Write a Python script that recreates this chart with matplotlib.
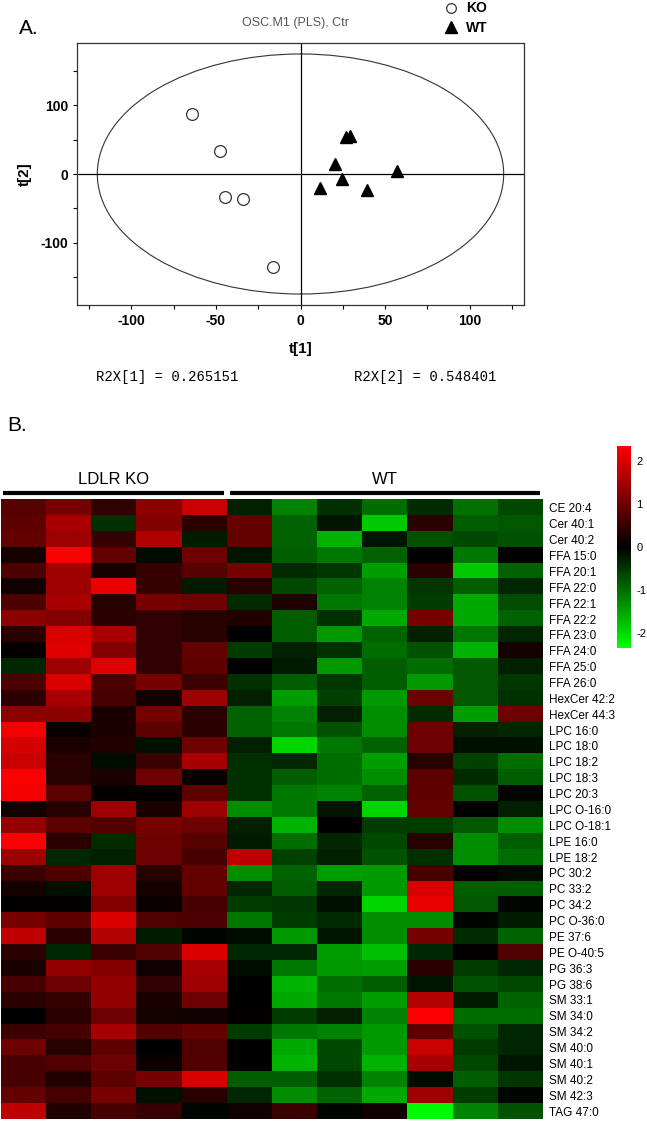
import matplotlib
matplotlib.use('Agg')
import matplotlib.pyplot as plt
import numpy as np
from matplotlib.colors import LinearSegmentedColormap
from matplotlib.patches import Ellipse

plt.rcParams['font.family'] = ['Liberation Sans', 'DejaVu Sans']
plt.rcParams['axes.unicode_minus'] = False

# scores plot (panel A)
ko_t1 = [-64, -47.5, -44.5, -34, -16.5]
ko_t2 = [88, 33, -33, -36, -136]
wt_t1 = [27, 29, 20.5, 24.5, 11.5, 39.5, 57]
wt_t2 = [54, 56, 14, -8, -20, -23, 4]
r2x = [0.265151, 0.548401]

# heatmap (panel B)
lipids = ['CE 20:4', 'Cer 40:1', 'Cer 40:2', 'FFA 15:0', 'FFA 20:1', 'FFA 22:0',
          'FFA 22:1', 'FFA 22:2', 'FFA 23:0', 'FFA 24:0', 'FFA 25:0', 'FFA 26:0',
          'HexCer 42:2', 'HexCer 44:3', 'LPC 16:0', 'LPC 18:0', 'LPC 18:2',
          'LPC 18:3', 'LPC 20:3', 'LPC O-16:0', 'LPC O-18:1', 'LPE 16:0',
          'LPE 18:2', 'PC 30:2', 'PC 33:2', 'PC 34:2', 'PC O-36:0', 'PE 37:6',
          'PE O-40:5', 'PG 36:3', 'PG 38:6', 'SM 33:1', 'SM 34:0', 'SM 34:2',
          'SM 40:0', 'SM 40:1', 'SM 40:2', 'SM 42:3', 'TAG 47:0']

ko_values = [
    [0.8, 1.1, 0.45, 1.3, 1.85],
    [0.85, 1.55, -0.45, 1.2, 0.4],
    [0.9, 1.45, 0.5, 1.6, -0.25],
    [0.2, 2.3, 0.9, -0.1, 1.0],
    [0.7, 1.45, 0.2, 0.5, 0.8],
    [0.15, 1.45, 2.15, 0.5, -0.25],
    [0.7, 1.55, 0.35, 1.1, 1.0],
    [1.3, 1.2, 0.4, 0.45, 0.35],
    [0.35, 2.0, 1.55, 0.45, 0.35],
    [0.05, 2.05, 1.2, 0.45, 0.9],
    [-0.35, 1.45, 2.05, 0.45, 0.85],
    [0.7, 2.0, 0.7, 1.1, 0.55],
    [0.4, 1.55, 0.65, 0.15, 1.45],
    [1.3, 1.3, 0.25, 1.1, 0.4],
    [2.25, 0.1, 0.25, 0.85, 0.4],
    [1.95, 0.25, 0.3, -0.15, 1.0],
    [1.85, 0.4, -0.1, 0.55, 1.55],
    [2.3, 0.35, 0.25, 1.0, 0.1],
    [2.25, 0.85, 0.05, 0.05, 0.85],
    [0.2, 0.35, 1.45, 0.25, 1.45],
    [1.35, 0.85, 0.75, 1.1, 1.0],
    [2.3, 0.4, -0.4, 1.0, 0.8],
    [1.45, -0.35, -0.3, 1.0, 0.65],
    [0.55, 0.7, 1.45, 0.35, 0.9],
    [0.2, -0.15, 1.45, 0.2, 0.9],
    [0.05, 0.05, 1.2, 0.1, 0.65],
    [1.1, 0.85, 2.0, 0.75, 0.7],
    [1.75, 0.4, 1.65, -0.25, -0.05],
    [0.4, -0.35, 0.55, 0.75, 2.0],
    [0.25, 1.35, 1.2, 0.15, 1.55],
    [0.65, 1.0, 1.35, 0.45, 1.45],
    [0.4, 0.5, 1.35, 0.25, 1.0],
    [0.0, 0.4, 1.0, 0.2, 0.15],
    [0.55, 0.65, 1.55, 0.75, 0.9],
    [1.0, 0.35, 0.85, 0.0, 0.75],
    [0.65, 0.75, 1.0, 0.1, 0.75],
    [0.65, 0.3, 0.85, 1.1, 2.0],
    [0.9, 0.65, 1.1, -0.15, 0.35],
    [1.75, 0.3, 0.65, 0.5, -0.05],
]

wt_values = [
    [-0.3, -1.2, -0.45, -1.0, -0.4, -1.05, -0.65],
    [0.95, -0.9, -0.2, -1.85, 0.4, -0.85, -0.8],
    [0.9, -0.9, -1.65, -0.2, -0.75, -0.65, -0.75],
    [-0.2, -0.85, -1.1, -0.9, 0.0, -1.1, 0.0],
    [1.1, -0.4, -0.5, -1.45, 0.4, -1.85, -0.9],
    [0.35, -0.65, -0.9, -1.2, -0.5, -0.85, -0.35],
    [-0.4, 0.3, -1.1, -1.2, -0.55, -1.55, -0.7],
    [0.3, -0.85, -0.45, -1.55, 1.1, -1.55, -0.9],
    [0.0, -0.85, -1.4, -0.9, -0.3, -1.1, -0.35],
    [-0.55, -0.3, -0.45, -1.0, -0.75, -1.65, 0.2],
    [0.0, -0.25, -1.4, -0.85, -1.0, -0.8, -0.3],
    [-0.45, -0.85, -0.5, -0.85, -1.4, -0.8, -0.5],
    [-0.3, -1.45, -0.6, -1.4, 1.0, -0.8, -0.45],
    [-0.9, -1.2, -0.3, -1.3, -0.4, -1.45, 1.0],
    [-0.9, -1.1, -0.75, -1.3, 1.0, -0.3, -0.35],
    [-0.3, -1.95, -1.1, -0.9, 1.0, -0.15, -0.15],
    [-0.45, -0.35, -1.0, -1.45, 0.35, -0.6, -1.0],
    [-0.45, -0.85, -1.0, -1.3, 0.85, -0.4, -0.85],
    [-0.45, -1.1, -1.2, -0.9, 0.85, -0.75, -0.05],
    [-1.3, -1.1, -0.2, -1.95, 0.9, 0.0, -0.3],
    [-0.3, -1.65, 0.0, -0.55, -0.55, -0.8, -1.3],
    [-0.25, -1.0, -0.35, -0.65, 0.35, -1.3, -0.85],
    [1.75, -0.6, -0.3, -0.75, -0.45, -1.3, -1.0],
    [-1.3, -0.9, -1.45, -1.4, 0.65, 0.05, -0.1],
    [-0.35, -0.85, -0.35, -1.4, 2.0, -0.85, -0.85],
    [-0.55, -0.5, -0.15, -1.95, 2.15, -0.8, -0.05],
    [-1.1, -0.55, -0.4, -1.3, -1.3, -0.05, -0.25],
    [-0.1, -1.4, -0.2, -1.3, 1.1, -0.4, -0.9],
    [-0.35, -0.35, -1.45, -1.75, -0.35, 0.05, 0.75],
    [-0.1, -1.1, -1.4, -1.45, 0.4, -0.55, -0.35],
    [0.0, -1.65, -1.0, -0.85, -0.2, -0.75, -0.65],
    [0.0, -1.55, -1.1, -1.45, 1.65, -0.25, -0.9],
    [0.05, -0.55, -0.3, -1.2, 2.3, -1.0, -1.0],
    [-0.55, -1.1, -1.2, -1.4, 0.85, -0.75, -0.35],
    [0.0, -1.55, -0.65, -1.4, 1.85, -0.55, -0.35],
    [0.0, -1.65, -0.65, -1.65, 1.55, -0.65, -0.2],
    [-0.85, -0.85, -0.45, -1.2, -0.1, -0.85, -0.5],
    [-0.35, -1.3, -0.9, -1.55, 1.45, -0.55, -0.05],
    [0.15, 0.55, -0.05, 0.15, -2.3, -1.2, -0.75],
]

W, H = 647, 1121
fig = plt.figure(figsize=(W / 100, H / 100), dpi=100)


def fx(px):
    return px / W


def fy(py):
    return 1 - py / H


# ---- panel A ----
ax = fig.add_axes([fx(77), fy(305), fx(524) - fx(77), fy(43) - fy(305)])
ax.add_patch(Ellipse((0, 0), 240, 350, fill=False, ec='#333333', lw=0.8))
ax.axhline(0, color='black', lw=0.9)
ax.axvline(0, color='black', lw=0.9)
ax.plot(ko_t1, ko_t2, 'o', ms=8.5, mfc='white', mec='#333333', mew=0.9, ls='none')
ax.plot(wt_t1, wt_t2, '^', ms=9, color='black', ls='none')
ax.set_xlim(-132, 132)
ax.set_ylim(-191, 191)
ax.set_xticks([-100, -50, 0, 50, 100])
ax.set_xticks(np.arange(-125, 126, 25), minor=True)
ax.set_yticks([-100, 0, 100])
ax.set_yticks(np.arange(-150, 151, 50), minor=True)
ax.tick_params(which='both', direction='out', length=3, width=0.8, labelsize=10)
for lab in ax.get_xticklabels() + ax.get_yticklabels():
    lab.set_fontweight('bold')
for s in ax.spines.values():
    s.set_color('#333333')
    s.set_linewidth(0.9)
ax.set_xlabel('t[1]', fontsize=11, fontweight='bold', labelpad=10)
ax.set_ylabel('t[2]', fontsize=11, fontweight='bold', labelpad=6)

fig.text(fx(19), fy(29), 'A.', fontsize=15, va='center')
fig.text(fx(295), fy(23), 'OSC.M1 (PLS), Ctr', fontsize=9, color='#555555',
         ha='center', va='center')
fig.lines.append(plt.Line2D([fx(451)], [fy(8)], marker='o', ms=7, mfc='white',
                            mec='#333333', mew=0.9, transform=fig.transFigure))
fig.lines.append(plt.Line2D([fx(451)], [fy(27)], marker='^', ms=8, color='black',
                            transform=fig.transFigure))
fig.text(fx(466), fy(8), 'KO', fontsize=10, fontweight='bold', va='center')
fig.text(fx(466), fy(28), 'WT', fontsize=10, fontweight='bold', va='center')
fig.text(fx(167), fy(377), 'R2X[1] = %.6f' % r2x[0], family='Liberation Mono',
         fontsize=10, ha='center', va='center')
fig.text(fx(425), fy(377), 'R2X[2] = %.6f' % r2x[1], family='Liberation Mono',
         fontsize=10, ha='center', va='center')

# ---- panel B ----
data = np.hstack([np.array(ko_values), np.array(wt_values)])
cmap = LinearSegmentedColormap.from_list('gbr', [(0, 1, 0), (0, 0, 0), (1, 0, 0)])
hx = fig.add_axes([fx(1), fy(1119), fx(543) - fx(1), fy(462) - fy(1119)])
im = hx.imshow(data, cmap=cmap, vmin=-2.35, vmax=2.35, aspect='auto',
               interpolation='nearest')
hx.set_xticks([])
hx.set_yticks(range(len(lipids)))
hx.set_yticklabels(lipids, fontsize=8.5)
hx.yaxis.tick_right()
hx.tick_params(axis='y', length=0, pad=4)
for s in hx.spines.values():
    s.set_visible(False)

n_ko = len(ko_values[0])
n_all = data.shape[1]
hx.plot([-0.46, n_ko - 0.56], [-0.92, -0.92], color='black', lw=3, clip_on=False,
        solid_capstyle='butt')
hx.plot([n_ko - 0.43, n_all - 0.57], [-0.92, -0.92], color='black', lw=3,
        clip_on=False, solid_capstyle='butt')
hx.text((n_ko - 1) / 2, -1.8, 'LDLR KO', fontsize=12, ha='center', va='center')
hx.text((n_ko + n_all - 1) / 2, -1.8, 'WT', fontsize=12, ha='center', va='center')
fig.text(fx(7), fy(425), 'B.', fontsize=15, va='center')

cax = fig.add_axes([fx(617), fy(648), fx(631) - fx(617), fy(446) - fy(648)])
cb = fig.colorbar(im, cax=cax, ticks=[-2, -1, 0, 1, 2])
cb.outline.set_visible(False)
cb.ax.tick_params(length=0, labelsize=8, pad=4)

fig.savefig('out.png', dpi=100)
